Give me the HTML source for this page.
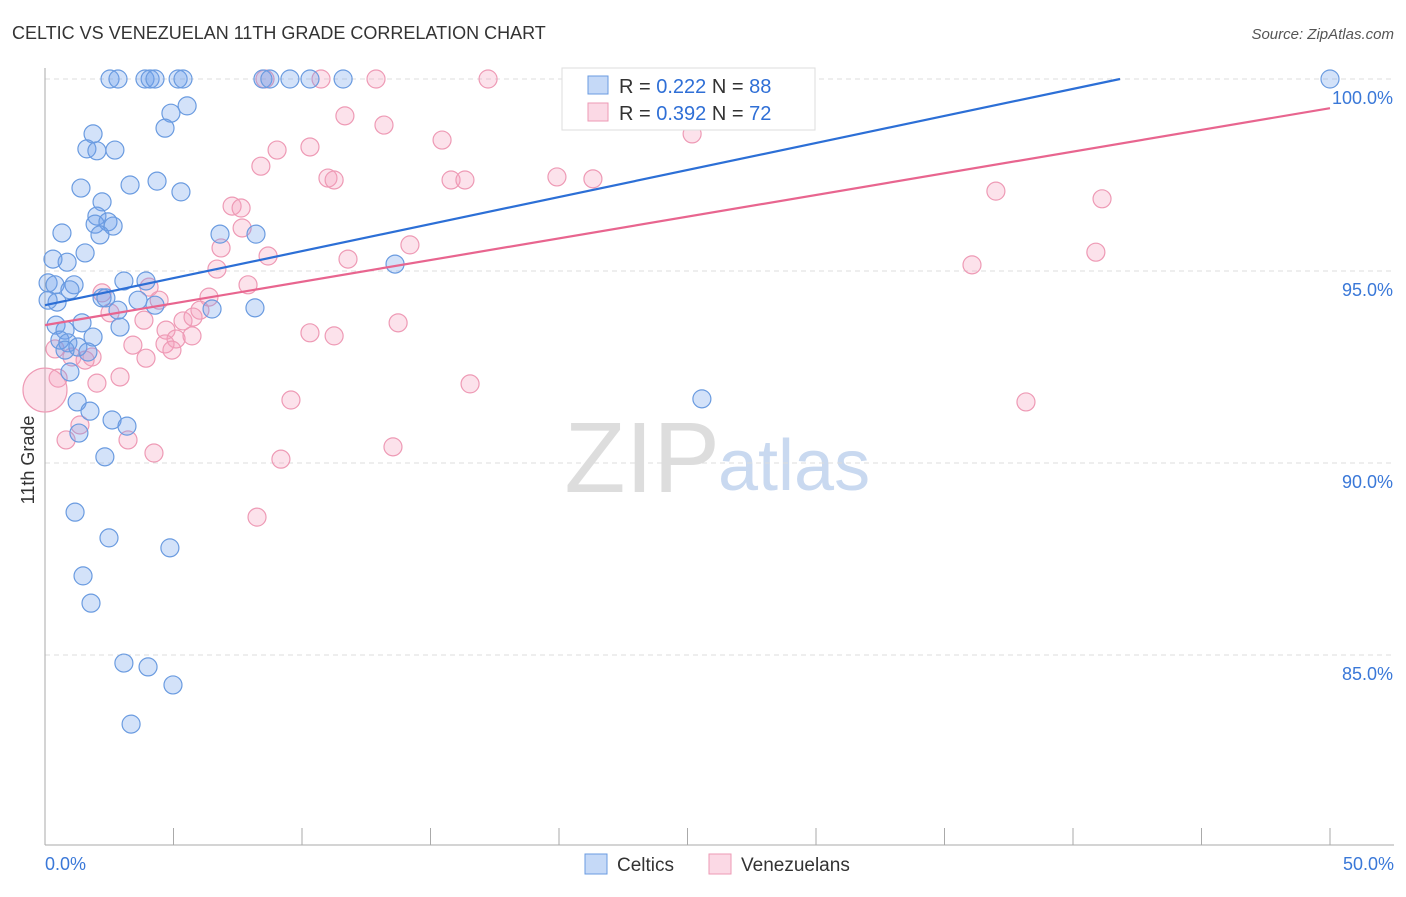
<!DOCTYPE html>
<html><head><meta charset="utf-8"><style>
body{margin:0;background:#fff;font-family:"Liberation Sans",sans-serif;}
svg text{font-family:"Liberation Sans",sans-serif;}
</style></head><body>
<svg id="chart" width="1406" height="892" xmlns="http://www.w3.org/2000/svg">
<text x="12" y="39" font-size="18" fill="#333">CELTIC VS VENEZUELAN 11TH GRADE CORRELATION CHART</text>
<text x="1394" y="39" font-size="15" fill="#555" text-anchor="end" font-style="italic">Source: ZipAtlas.com</text>
<text x="34" y="460" font-size="18" fill="#333" text-anchor="middle" transform="rotate(-90 34 460)">11th Grade</text>
<text x="720" y="492" font-size="100" fill="#ddd" text-anchor="end" font-family="Liberation Serif">ZIP</text>
<text x="718" y="490" font-size="72" fill="#c9d9f0">atlas</text>
<g id="grid"></g><g id="axes"></g><g id="pink"></g><g id="blue"></g><g id="trends"></g>
<g>
<rect x="562" y="68" width="253" height="62" fill="#fff" stroke="#ddd"/>
<rect x="588" y="76" width="20" height="18" fill="rgba(110,160,235,0.4)" stroke="#6a9be0"/>
<rect x="588" y="103" width="20" height="18" fill="rgba(245,160,190,0.4)" stroke="#ee9ab5"/>
<text x="619" y="93" font-size="20" fill="#333">R = <tspan fill="#2f6fd6">0.222</tspan>   N = <tspan fill="#2f6fd6">88</tspan></text>
<text x="619" y="120" font-size="20" fill="#333">R = <tspan fill="#2f6fd6">0.392</tspan>   N = <tspan fill="#2f6fd6">72</tspan></text>
</g>
<g>
<rect x="585" y="854" width="22" height="20" fill="rgba(110,160,235,0.4)" stroke="#6a9be0"/>
<text x="617" y="871" font-size="19" fill="#333">Celtics</text>
<rect x="709" y="854" width="22" height="20" fill="rgba(245,160,190,0.4)" stroke="#ee9ab5"/>
<text x="741" y="871" font-size="19" fill="#333">Venezuelans</text>
</g>
</svg>
<script>
const yTicks=[85,90,95,100];
const yTickLabels=["85.0%","90.0%","95.0%","100.0%"];
const xTickLabels=["0.0%","50.0%"];
const blueX=[2.53,2.84,3.89,4.09,4.28,5.18,5.37,8.48,8.75,9.53,10.31,11.6,50,5.53,4.9,4.67,1.87,1.63,2.02,2.72,4.36,3.31,1.4,5.29,2.22,2.02,1.95,2.45,2.65,2.14,0.66,6.81,8.21,1.56,0.86,0.31,13.62,3.07,3.93,0.12,0.39,1.13,0.97,0.47,0.12,2.22,2.37,3.62,4.28,2.84,6.5,8.17,0.43,1.44,0.78,2.92,0.58,1.87,0.89,1.28,0.78,1.67,0.97,25.56,1.25,1.75,2.61,3.19,1.32,2.33,1.17,2.49,4.86,1.48,1.79,3.07,4.01,4.98,3.35];
const blueY=[100,100,100,100,100,100,100,100,100,100,100,100,100,99.3,99.11,98.72,98.57,98.18,98.13,98.15,97.34,97.24,97.16,97.06,96.8,96.43,96.22,96.28,96.17,95.94,95.99,95.96,95.96,95.47,95.23,95.31,95.18,94.74,94.74,94.69,94.64,94.64,94.51,94.19,94.24,94.3,94.3,94.24,94.11,93.98,94.01,94.04,93.59,93.65,93.46,93.54,93.2,93.28,93.13,93.02,92.94,92.89,92.37,91.67,91.59,91.35,91.12,90.96,90.78,90.16,88.72,88.05,87.79,87.06,86.35,84.79,84.69,84.22,83.2];
const pinkX=[8.56,10.74,12.88,17.24,11.67,13.19,15.45,25.18,9.03,10.31,8.4,11.01,11.25,15.8,16.34,19.92,21.32,37,41.13,7.28,7.63,7.67,6.85,14.2,8.68,11.79,36.07,40.89,6.69,7.9,4.05,2.22,4.44,6.38,6.03,2.53,5.37,5.76,3.85,4.71,5.1,5.72,3.42,4.67,4.94,10.31,11.25,13.74,0.39,1.05,1.83,1.56,3.93,2.92,0.51,2.02,9.57,16.54,38.17,1.36,0.82,3.23,4.24,9.18,13.54,8.25,0];
const pinkY=[100,100,100,100,99.04,98.8,98.41,98.57,98.15,98.23,97.73,97.42,97.37,97.37,97.37,97.45,97.4,97.08,96.88,96.69,96.64,96.12,95.6,95.68,95.39,95.31,95.16,95.49,95.05,94.64,94.58,94.43,94.24,94.32,93.98,93.91,93.7,93.8,93.72,93.46,93.23,93.31,93.07,93.1,92.94,93.39,93.31,93.65,92.97,92.76,92.76,92.68,92.73,92.24,92.21,92.08,91.64,92.06,91.59,90.99,90.6,90.6,90.26,90.1,90.42,88.59,91.9];
const blueTrend=[94.11,100];   // y at x=0, y at x=41.83
const blueTrendX=[0,41.83];
const pinkTrend=[93.59,99.24];
const pinkTrendX=[0,50];
const NS="http://www.w3.org/2000/svg";
const X0=45,X1=1330,Y100=79,Y95=271;
function sx(v){return X0+(v/50)*(X1-X0);}
function sy(v){return Y100+(100-v)*(Y95-Y100)/5;}
function mk(tag,attrs,parent){const e=document.createElementNS(NS,tag);for(const k in attrs)e.setAttribute(k,attrs[k]);document.getElementById(parent).appendChild(e);return e;}
yTicks.forEach((t,i)=>{
  const l=mk('line',{x1:X0,x2:1394,y1:sy(t),y2:sy(t),stroke:'#ddd','stroke-dasharray':'5,4'},'grid');
  
  
  const tx=mk('text',{x:1393,y:sy(t)+25,'font-size':18,fill:'#3a78d8','text-anchor':'end'},'grid');
  tx.textContent=yTickLabels[i];
  
  
});
const ax=mk('line',{x1:X0,x2:X0,y1:68,y2:845,stroke:'#aaa'},'axes');


const bx=mk('line',{x1:X0,x2:1394,y1:845,y2:845,stroke:'#aaa'},'axes');


for(let i=0;i<=10;i++){
  const v=i*5;
  const t=mk('line',{x1:sx(v),x2:sx(v),y1:828,y2:845,stroke:'#aaa'},'axes');
  
  
}
[0,50].forEach((v,i)=>{
  const t=mk('text',{x:i?1394:45,y:870,'font-size':18,fill:'#3a78d8','text-anchor':i?'end':'start'},'axes');
  t.textContent=xTickLabels[i];
  
  
});
pinkX.forEach((x,i)=>{
  const big=(i===pinkX.length-1);
  const c=mk('circle',{cx:sx(x),cy:sy(pinkY[i]),r:big?22:9,fill:'rgba(245,160,190,0.3)',stroke:'#ee9ab5','stroke-width':1.2},'pink');
  
  
});
blueX.forEach((x,i)=>{
  const c=mk('circle',{cx:sx(x),cy:sy(blueY[i]),r:9,fill:'rgba(110,160,235,0.3)',stroke:'#6a9be0','stroke-width':1.2},'blue');
  
  
});
const bl=mk('line',{x1:sx(blueTrendX[0]),y1:sy(blueTrend[0]),x2:sx(blueTrendX[1]),y2:sy(blueTrend[1]),stroke:'#2c6fd6','stroke-width':2.2},'trends');


const pl=mk('line',{x1:sx(pinkTrendX[0]),y1:sy(pinkTrend[0]),x2:sx(pinkTrendX[1]),y2:sy(pinkTrend[1]),stroke:'#e8658f','stroke-width':2.2},'trends');


</script>
</body></html>
